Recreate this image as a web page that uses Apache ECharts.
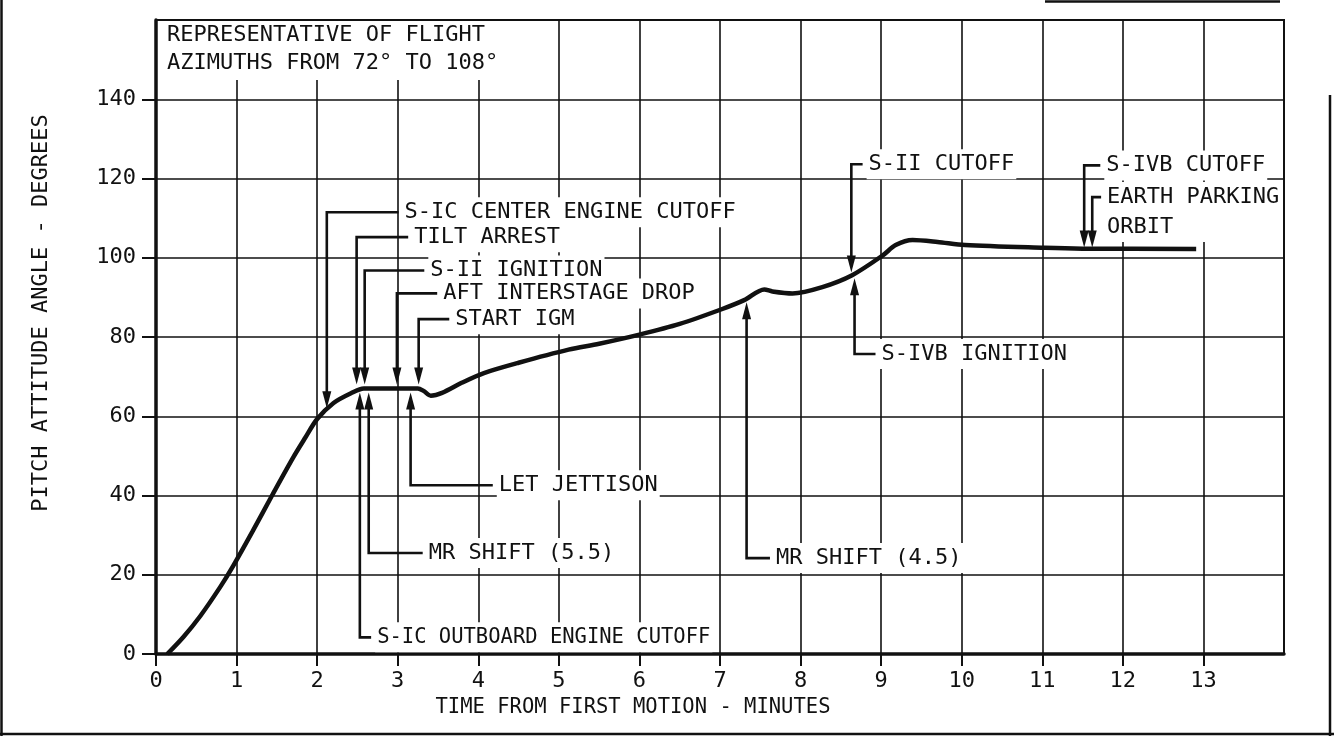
<!DOCTYPE html>
<html>
<head>
<meta charset="utf-8">
<script src="https://cdn.jsdelivr.net/npm/echarts@6/dist/echarts.min.js"></script>
<style>
  html, body { margin: 0; padding: 0; background: #fff; }
  #chart { width: 1334px; height: 736px; }
</style>
</head>
<body>
<div id="chart"></div>
<script>
// pitch attitude trace
const timeMin = [0.14, 0.34, 0.55, 0.8, 0.96, 1.2, 1.44, 1.7, 1.85, 2.0, 2.2, 2.42, 2.58, 3.25, 3.32, 3.41,
  3.55, 3.8, 4.07, 4.5, 5.12, 5.5, 6.0, 6.5, 7.02, 7.3, 7.55, 7.65, 7.9, 8.27, 8.64, 9.02, 9.18, 9.39,
  9.7, 10.04, 11.03, 11.5, 12.91]
const pitchDeg = [0, 4.3, 9.6, 17, 22.3, 31, 40, 49.5, 54.5, 59.3, 63.3, 65.8, 67, 67, 66.4, 65.2,
  65.9, 68.5, 70.9, 73.5, 76.8, 78.3, 80.6, 83.3, 87, 89.3, 92, 91.5, 91, 92.6, 95.6, 100.6, 103.2, 104.5,
  104, 103.2, 102.5, 102.3, 102.2]

const timeTicks = [0, 1, 2, 3, 4, 5, 6, 7, 8, 9, 10, 11, 12, 13]
const pitchTicks = [0, 20, 40, 60, 80, 100, 120, 140]

// event call-outs: arrow at (eventTime, eventPitch), label leader at labelPitch, running to labelTime
const eventNames = [
  'S-IC CENTER ENGINE CUTOFF', 'TILT ARREST', 'S-II IGNITION', 'AFT INTERSTAGE DROP', 'START IGM',
  'LET JETTISON', 'MR SHIFT (5.5)', 'S-IC OUTBOARD ENGINE CUTOFF', 'MR SHIFT (4.5)', 'S-IVB IGNITION',
  'S-II CUTOFF', 'S-IVB CUTOFF', 'EARTH PARKING\nORBIT'
]
const eventTime = [2.12, 2.49, 2.59, 2.99, 3.26, 3.16, 2.64, 2.53, 7.33, 8.67, 8.63, 11.52, 11.62]
const eventPitch = [62, 68, 68, 68, 68, 66, 66, 66, 88.8, 94.8, 96.3, 102.6, 102.6]
const labelPitch = [111.5, 105.2, 96.8, 91.0, 84.5, 42.6, 25.5, 4.2, 24.2, 75.7, 123.6, 123.3, 115.3]
const labelTime = [3.01, 3.13, 3.33, 3.49, 3.64, 4.18, 3.31, 2.67, 7.62, 8.93, 8.77, 11.72, 11.73]

const FONT = '"DejaVu Sans Mono", "Liberation Mono", monospace'
const INK = '#111'

const chart = echarts.init(document.getElementById('chart'))

// 画出箭头、引线和文字
const renderEvent = (params, api) => {
  const i = api.value(4)
  const tip = api.coord([api.value(0), api.value(1)])
  const elbow = api.coord([api.value(0), api.value(2)])
  const end = api.coord([api.value(3), api.value(2)])
  const dir = elbow[1] < tip[1] ? 1 : -1
  const base = tip[1] - dir * 15
  const small = eventNames[i].length > 26
  return {
    type: 'group',
    children: [
      {
        type: 'polyline',
        shape: { points: [[end[0], elbow[1]], elbow, [tip[0], base]] },
        style: { stroke: INK, lineWidth: 2.6, fill: null }
      },
      {
        type: 'polygon',
        shape: { points: [tip, [tip[0] - 4.5, base - dir * 2], [tip[0] + 4.5, base - dir * 2]] },
        style: { fill: INK }
      },
      {
        type: 'text',
        x: end[0] + 4,
        y: elbow[1] - 15,
        z2: 10,
        style: {
          text: eventNames[i],
          fontFamily: FONT,
          fontSize: small ? 20.5 : 22,
          fill: INK,
          lineHeight: 30,
          align: 'left',
          verticalAlign: 'top',
          backgroundColor: '#fff',
          padding: [0, 2]
        }
      }
    ]
  }
}

const option = {
  backgroundColor: '#fff',
  animation: false,
  title: {
    text: 'REPRESENTATIVE OF FLIGHT\nAZIMUTHS FROM 72° TO 108°',
    left: 158,
    top: 21,
    padding: [0, 12, 3, 9],
    backgroundColor: '#fff',
    textStyle: { fontFamily: FONT, fontSize: 22, fontWeight: 'normal', color: INK, lineHeight: 28 }
  },
  grid: {
    left: 156, right: 50, top: 20, bottom: 82,
    show: true, borderColor: INK, borderWidth: 2
  },
  xAxis: {
    type: 'value',
    min: 0, max: 14, interval: 1,
    name: 'TIME FROM FIRST MOTION - MINUTES',
    nameLocation: 'middle',
    nameGap: 40,
    nameTextStyle: { fontFamily: FONT, fontSize: 20.5, color: INK, padding: [0, 174, 0, 0] },
    axisLine: { show: true, onZero: false, lineStyle: { color: INK, width: 3.5 } },
    axisTick: { show: true, length: 12, customValues: timeTicks, lineStyle: { color: INK, width: 2 } },
    axisLabel: { customValues: timeTicks, margin: 16, fontFamily: FONT, fontSize: 22, color: INK },
    splitLine: { show: true, lineStyle: { color: INK, width: 1.6 } }
  },
  yAxis: {
    type: 'value',
    min: 0, max: 160, interval: 20,
    name: 'PITCH ATTITUDE ANGLE - DEGREES',
    nameLocation: 'middle',
    nameGap: 104,
    nameTextStyle: { fontFamily: FONT, fontSize: 22, color: INK, padding: [0, 0, 0, 48] },
    axisLine: { show: true, onZero: false, lineStyle: { color: INK, width: 3.5 } },
    axisTick: { show: true, length: 14, customValues: pitchTicks, lineStyle: { color: INK, width: 2 } },
    axisLabel: { customValues: pitchTicks, margin: 20, fontFamily: FONT, fontSize: 22, color: INK },
    splitLine: { show: true, lineStyle: { color: INK, width: 1.6 } }
  },
  graphic: [
    { type: 'line', shape: { x1: 1.5, y1: 0, x2: 1.5, y2: 736 }, style: { stroke: INK, lineWidth: 2.5 } },
    { type: 'line', shape: { x1: 0, y1: 734, x2: 1334, y2: 734 }, style: { stroke: INK, lineWidth: 2.5 } },
    { type: 'line', shape: { x1: 1330, y1: 95, x2: 1330, y2: 736 }, style: { stroke: INK, lineWidth: 2.5 } },
    { type: 'line', shape: { x1: 1045, y1: 1.5, x2: 1280, y2: 1.5 }, style: { stroke: INK, lineWidth: 2.5 } }
  ],
  series: [
    {
      type: 'line',
      data: timeMin.map((t, i) => [t, pitchDeg[i]]),
      smooth: 0.3,
      showSymbol: false,
      z: 2,
      lineStyle: { color: INK, width: 4.5 }
    },
    {
      type: 'custom',
      z: 3,
      renderItem: renderEvent,
      encode: { x: [0, 3], y: [1, 2] },
      data: eventNames.map((n, i) => [eventTime[i], eventPitch[i], labelPitch[i], labelTime[i], i])
    }
  ]
}

chart.setOption(option)
</script>
</body>
</html>
